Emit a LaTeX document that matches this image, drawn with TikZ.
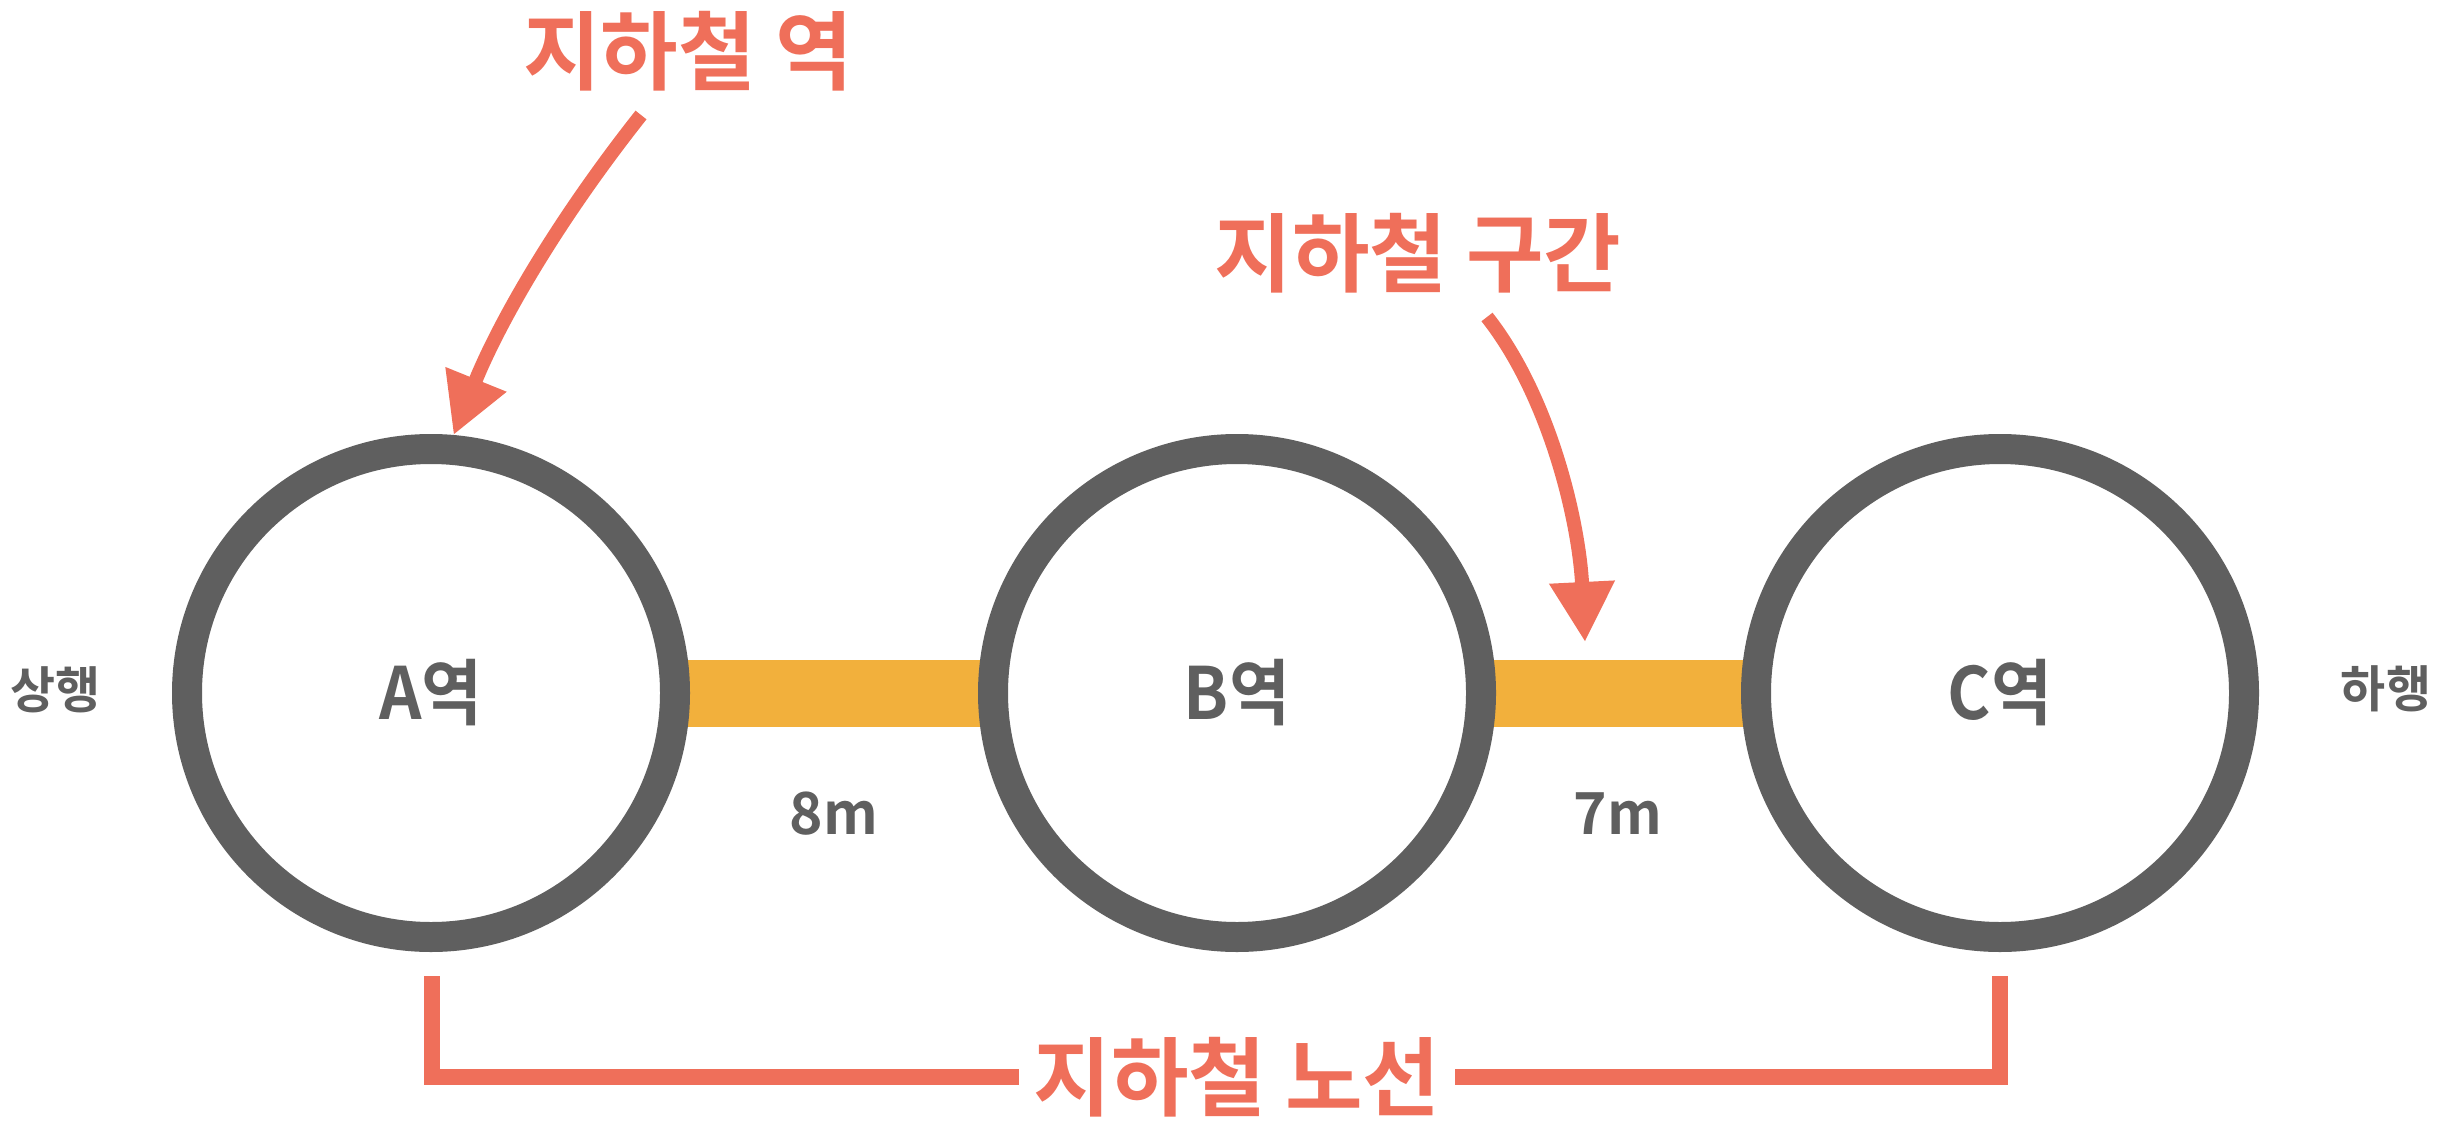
\documentclass[tikz,border=0pt]{standalone}
\usepackage{fontspec}
\newfontfamily\kr{Noto Sans CJK KR Bold}[FakeStretch=0.98]
\newfontfamily\krnarrow{Noto Sans CJK KR Bold}[FakeStretch=0.92]
\usetikzlibrary{arrows.meta,backgrounds,calc}
\definecolor{ringgray}{HTML}{5F5F5F}
\definecolor{trackorange}{HTML}{F2B03C}
\definecolor{accent}{HTML}{EF6F5A}
\tikzset{
  station/.style={circle, draw=ringgray, line width=30pt, fill=white,
    minimum size=488pt, inner sep=0pt, text=ringgray,
    font=\krnarrow\fontsize{72}{80}\selectfont},
  trackbar/.style={draw=trackorange, line width=67pt},
  distlabel/.style={text=ringgray, inner sep=0pt, font=\kr\fontsize{58}{64}\selectfont},
  sidelabel/.style={text=ringgray, inner sep=0pt, font=\kr\fontsize{50}{56}\selectfont},
  titlelabel/.style={text=accent, inner sep=0pt, font=\kr\fontsize{86}{94}\selectfont},
  pointer/.style={draw=accent, line width=14pt, -{Triangle[width=62pt,length=60pt]}},
  bracketline/.style={draw=accent, line width=16pt, line join=miter},
}
\begin{document}
\begin{tikzpicture}[x=1pt,y=-1pt]
\useasboundingbox (0,0) rectangle (2444,1142);
% stations
\node[station] (A) at (431,693) {A역};
\node[station] (B) at (1237,693) {B역};
\node[station] (C) at (2000,693) {C역};
% track
\begin{scope}[on background layer]
\draw[trackbar] (A.center) -- (B.center);
\draw[trackbar] (B.center) -- (C.center);
\end{scope}
% distances
\node[distlabel] (d1) at (834,814) {8m};
\node[distlabel] (d2) at (1618,814) {7m};
% side labels
\node[sidelabel] (up) at (56,690) {상행};
\node[sidelabel] (down) at (2386,689) {하행};
% titles
\node[titlelabel] (ttlst) at (688,51) {지하철 역};
\node[titlelabel] (ttlsec) at (1418,253) {지하철 구간};
\node[titlelabel, inner xsep=14pt] (ttlline) at (1237,1077) {지하철 노선};
% pointers
\coordinate (s1) at (641,115);
\draw[pointer] (s1) .. controls (554,225) and (498,325) .. (A.85);
\coordinate (s2) at (1487,317);
\coordinate (t2) at (1585,642);
\draw[pointer] (s2) .. controls (1550,397) and (1579,522) .. (t2);
% bracket
\coordinate (bl) at (432,976);
\coordinate (br) at (2000,976);
\draw[bracketline] (bl) |- (ttlline.west);
\draw[bracketline] (br) |- (ttlline.east);
\end{tikzpicture}
\end{document}
